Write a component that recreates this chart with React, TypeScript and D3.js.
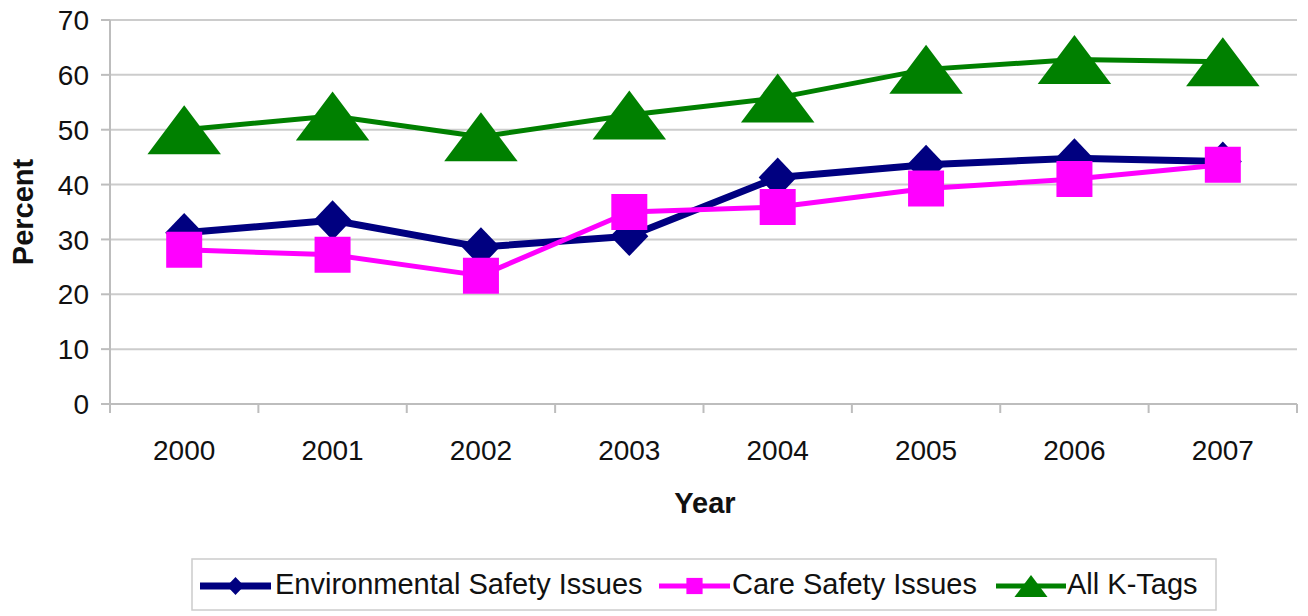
import React from "react";
import * as d3 from "d3";

const years = ["2000", "2001", "2002", "2003", "2004", "2005", "2006", "2007"];
const envSafety = [31.2, 33.5, 28.6, 30.6, 41.3, 43.6, 44.8, 44.2];
const careSafety = [28.1, 27.2, 23.4, 35.0, 35.9, 39.3, 41.0, 43.6];
const allKTags = [50.0, 52.5, 48.7, 52.7, 55.8, 61.0, 62.8, 62.4];
const yTicks = [0, 10, 20, 30, 40, 50, 60, 70];

const W = 1308;
const H = 616;
const margin = { top: 20, right: 11, bottom: 212, left: 110 };
const FONT = "'Liberation Sans', Arial, sans-serif";

// custom marker shapes (sized in px, not area)
const diamondSym = {
  draw(ctx: any, s: number) {
    const r = s / 2;
    ctx.moveTo(0, -r * 1.05);
    ctx.lineTo(r, 0);
    ctx.lineTo(0, r * 1.05);
    ctx.lineTo(-r, 0);
    ctx.closePath();
  },
};
const squareSym = {
  draw(ctx: any, s: number) {
    const r = s / 2;
    ctx.rect(-r, -r, s, s);
  },
};
const triangleSym = {
  draw(ctx: any, s: number) {
    const r = s / 2;
    ctx.moveTo(0, -r);
    ctx.lineTo(r * 1.5, r);
    ctx.lineTo(-r * 1.5, r);
    ctx.closePath();
  },
};

const series = [
  { name: "Environmental Safety Issues", values: envSafety, color: "#000080", width: 7, sym: diamondSym, size: 38 },
  { name: "Care Safety Issues", values: careSafety, color: "#ff00ff", width: 5, sym: squareSym, size: 36 },
  { name: "All K-Tags", values: allKTags, color: "#008000", width: 5, sym: triangleSym, size: 49 },
];

export default function App() {
  const x = d3
    .scaleBand<string>()
    .domain(years)
    .range([margin.left, W - margin.right]);
  const y = d3
    .scaleLinear()
    .domain([0, 70])
    .range([H - margin.bottom, margin.top]);
  const cx = (i: number) => (x(years[i]) as number) + x.bandwidth() / 2;

  const line = d3
    .line<number>()
    .x((_, i) => cx(i))
    .y((d) => y(d));

  const legendItems = [
    { lx: 200, lx2: 271, tx: 275 },
    { lx: 659, lx2: 730, tx: 732 },
    { lx: 996, lx2: 1066, tx: 1067 },
  ];

  return (
    <svg
      width={W}
      height={H}
      style={{ position: "absolute", left: 0, top: 0, background: "#fff" }}
      fontFamily={FONT}
    >
      {/* gridlines */}
      {yTicks.slice(1).map((t) => (
        <line key={t} x1={margin.left} x2={W - margin.right} y1={y(t)} y2={y(t)} stroke="#cccccc" strokeWidth={2} />
      ))}
      {/* y axis */}
      <line x1={margin.left} x2={margin.left} y1={y(70)} y2={y(0)} stroke="#bdbdbd" strokeWidth={2} />
      {yTicks.map((t) => (
        <g key={t}>
          <line x1={margin.left - 9} x2={margin.left} y1={y(t)} y2={y(t)} stroke="#bdbdbd" strokeWidth={2} />
          <text x={margin.left - 21} y={y(t)} dy="0.36em" textAnchor="end" fontSize={28} fill="#111">
            {t}
          </text>
        </g>
      ))}
      {/* x axis */}
      <line x1={margin.left} x2={W - margin.right} y1={y(0)} y2={y(0)} stroke="#bdbdbd" strokeWidth={2} />
      {years.map((yr, i) => (
        <g key={yr}>
          <line x1={x(yr) as number} x2={x(yr) as number} y1={y(0)} y2={y(0) + 9} stroke="#bdbdbd" strokeWidth={2} />
          <text x={cx(i)} y={y(0) + 56} textAnchor="middle" fontSize={28} fill="#111">
            {yr}
          </text>
        </g>
      ))}
      <line x1={W - margin.right} x2={W - margin.right} y1={y(0)} y2={y(0) + 9} stroke="#bdbdbd" strokeWidth={2} />

      {/* axis titles */}
      <text
        transform={`translate(33,${(y(0) + y(70)) / 2}) rotate(-90)`}
        textAnchor="middle"
        fontSize={29}
        fontWeight="bold"
        fill="#111"
      >
        Percent
      </text>
      <text x={705} y={513} textAnchor="middle" fontSize={29} fontWeight="bold" fill="#111">
        Year
      </text>

      {/* series */}
      {series.map((s) => (
        <g key={s.name}>
          <path d={line(s.values) as string} fill="none" stroke={s.color} strokeWidth={s.width} strokeLinejoin="round" />
          {s.values.map((v, i) => (
            <path
              key={i}
              transform={`translate(${cx(i)},${y(v)})`}
              d={d3.symbol(s.sym as any, s.size)() as string}
              fill={s.color}
            />
          ))}
        </g>
      ))}

      {/* legend */}
      <rect x={192} y={559} width={1024} height={51} fill="#fff" stroke="#cccccc" strokeWidth={1.5} />
      {series.map((s, k) => {
        const { lx, lx2, tx } = legendItems[k];
        const ly = 586;
        return (
          <g key={s.name}>
            <line x1={lx} x2={lx2} y1={ly} y2={ly} stroke={s.color} strokeWidth={s.width} />
            <path
              transform={`translate(${(lx + lx2) / 2},${ly})`}
              d={d3.symbol(s.sym as any, s.size * 0.45)() as string}
              fill={s.color}
            />
            <text x={tx} y={594} fontSize={29} fill="#111">
              {s.name}
            </text>
          </g>
        );
      })}
    </svg>
  );
}
